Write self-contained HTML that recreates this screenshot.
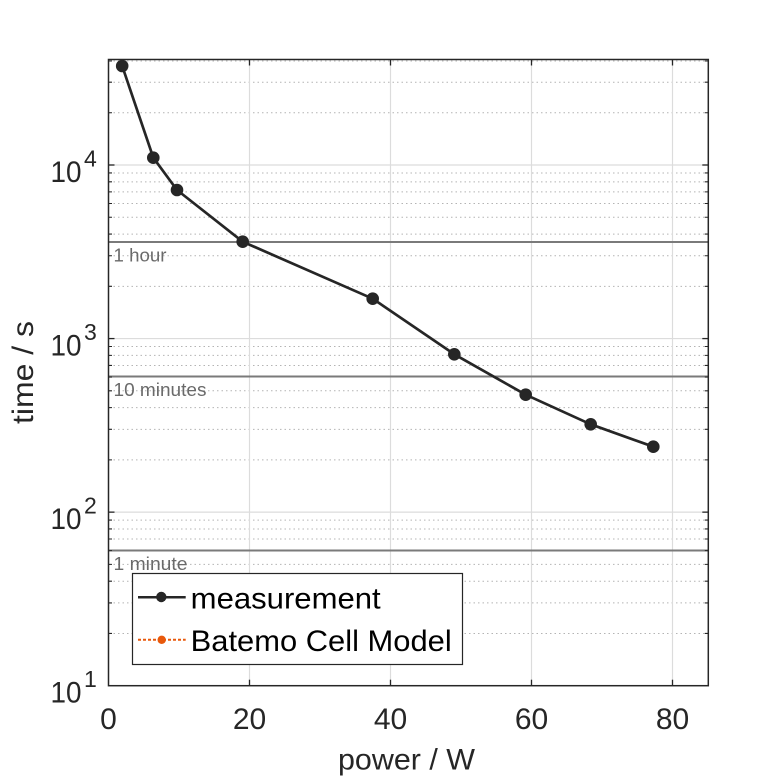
<!DOCTYPE html>
<html>
<head>
<meta charset="utf-8">
<style>
  html, body { margin: 0; padding: 0; background: #ffffff; }
  svg { display: block; }
  text { font-family: "Liberation Sans", "DejaVu Sans", sans-serif; }
</style>
</head>
<body>
<svg width="781" height="781" viewBox="0 0 781 781" xmlns="http://www.w3.org/2000/svg">
  <rect x="0" y="0" width="781" height="781" fill="#ffffff"/>

  <!-- minor dotted grid lines -->
  <g stroke="#b4b4b4" stroke-width="1" stroke-dasharray="1.5 3" fill="none">
    <line x1="109" x2="708" y1="633.45" y2="633.45"/>
    <line x1="109" x2="708" y1="602.89" y2="602.89"/>
    <line x1="109" x2="708" y1="581.2" y2="581.2"/>
    <line x1="109" x2="708" y1="564.38" y2="564.38"/>
    <line x1="109" x2="708" y1="550.63" y2="550.63"/>
    <line x1="109" x2="708" y1="539.01" y2="539.01"/>
    <line x1="109" x2="708" y1="528.95" y2="528.95"/>
    <line x1="109" x2="708" y1="520.07" y2="520.07"/>

    <line x1="109" x2="708" y1="459.88" y2="459.88"/>
    <line x1="109" x2="708" y1="429.32" y2="429.32"/>
    <line x1="109" x2="708" y1="407.63" y2="407.63"/>
    <line x1="109" x2="708" y1="390.81" y2="390.81"/>
    <line x1="109" x2="708" y1="377.06" y2="377.06"/>
    <line x1="109" x2="708" y1="365.44" y2="365.44"/>
    <line x1="109" x2="708" y1="355.38" y2="355.38"/>
    <line x1="109" x2="708" y1="346.5" y2="346.5"/>

    <line x1="109" x2="708" y1="286.32" y2="286.32"/>
    <line x1="109" x2="708" y1="255.76" y2="255.76"/>
    <line x1="109" x2="708" y1="234.07" y2="234.07"/>
    <line x1="109" x2="708" y1="217.25" y2="217.25"/>
    <line x1="109" x2="708" y1="203.5" y2="203.5"/>
    <line x1="109" x2="708" y1="191.88" y2="191.88"/>
    <line x1="109" x2="708" y1="181.82" y2="181.82"/>
    <line x1="109" x2="708" y1="172.94" y2="172.94"/>

    <line x1="109" x2="708" y1="112.75" y2="112.75"/>
    <line x1="109" x2="708" y1="82.19" y2="82.19"/>
    <line x1="109" x2="708" y1="61" y2="61"/>
  </g>

  <!-- major grid lines -->
  <g stroke="#dcdcdc" stroke-width="1.2" fill="none">
    <line x1="249.5" x2="249.5" y1="60" y2="685.5"/>
    <line x1="390.5" x2="390.5" y1="60" y2="685.5"/>
    <line x1="531.5" x2="531.5" y1="60" y2="685.5"/>
    <line x1="672.5" x2="672.5" y1="60" y2="685.5"/>
    <line x1="109" x2="708" y1="165" y2="165"/>
    <line x1="109" x2="708" y1="338.57" y2="338.57"/>
    <line x1="109" x2="708" y1="512.13" y2="512.13"/>
  </g>

  <!-- reference lines -->
  <g stroke="#7a7a7a" stroke-width="2" fill="none">
    <line x1="109" x2="708" y1="242" y2="242"/>
    <line x1="109" x2="708" y1="376.5" y2="376.5"/>
    <line x1="109" x2="708" y1="550.5" y2="550.5"/>
  </g>
  <g fill="#6a6a6a" font-size="18">
    <text x="113.5" y="261.5" textLength="53" lengthAdjust="spacingAndGlyphs">1 hour</text>
    <text x="113.5" y="396" textLength="93" lengthAdjust="spacingAndGlyphs">10 minutes</text>
    <text x="113.5" y="570" textLength="74" lengthAdjust="spacingAndGlyphs">1 minute</text>
  </g>

  <!-- axes box -->
  <rect x="108.5" y="59.5" width="599.8" height="626.2" fill="none" stroke="#262626" stroke-width="1.5"/>

  <!-- ticks: x axis (bottom and top) -->
  <g stroke="#262626" stroke-width="1.3">
    <line x1="249.5" x2="249.5" y1="685.7" y2="679.7"/>
    <line x1="390.5" x2="390.5" y1="685.7" y2="679.7"/>
    <line x1="531.5" x2="531.5" y1="685.7" y2="679.7"/>
    <line x1="672.5" x2="672.5" y1="685.7" y2="679.7"/>
    <line x1="249.5" x2="249.5" y1="59.5" y2="65.5"/>
    <line x1="390.5" x2="390.5" y1="59.5" y2="65.5"/>
    <line x1="531.5" x2="531.5" y1="59.5" y2="65.5"/>
    <line x1="672.5" x2="672.5" y1="59.5" y2="65.5"/>
    <!-- y major ticks left & right -->
    <line x1="108.5" x2="114.5" y1="165" y2="165"/>
    <line x1="108.5" x2="114.5" y1="338.57" y2="338.57"/>
    <line x1="108.5" x2="114.5" y1="512.13" y2="512.13"/>
    <line x1="708.3" x2="702.3" y1="165" y2="165"/>
    <line x1="708.3" x2="702.3" y1="338.57" y2="338.57"/>
    <line x1="708.3" x2="702.3" y1="512.13" y2="512.13"/>
  </g>
  <!-- y minor ticks -->
  <g stroke="#262626" stroke-width="1.1">
    <path d="M108.5 633.45h3.5M108.5 602.89h3.5M108.5 581.2h3.5M108.5 564.38h3.5M108.5 550.63h3.5M108.5 539.01h3.5M108.5 528.95h3.5M108.5 520.07h3.5
             M108.5 459.88h3.5M108.5 429.32h3.5M108.5 407.63h3.5M108.5 390.81h3.5M108.5 377.06h3.5M108.5 365.44h3.5M108.5 355.38h3.5M108.5 346.5h3.5
             M108.5 286.32h3.5M108.5 255.76h3.5M108.5 234.07h3.5M108.5 217.25h3.5M108.5 203.5h3.5M108.5 191.88h3.5M108.5 181.82h3.5M108.5 172.94h3.5
             M108.5 112.75h3.5M108.5 82.19h3.5M108.5 61h3.5
             M708.3 633.45h-3.5M708.3 602.89h-3.5M708.3 581.2h-3.5M708.3 564.38h-3.5M708.3 550.63h-3.5M708.3 539.01h-3.5M708.3 528.95h-3.5M708.3 520.07h-3.5
             M708.3 459.88h-3.5M708.3 429.32h-3.5M708.3 407.63h-3.5M708.3 390.81h-3.5M708.3 377.06h-3.5M708.3 365.44h-3.5M708.3 355.38h-3.5M708.3 346.5h-3.5
             M708.3 286.32h-3.5M708.3 255.76h-3.5M708.3 234.07h-3.5M708.3 217.25h-3.5M708.3 203.5h-3.5M708.3 191.88h-3.5M708.3 181.82h-3.5M708.3 172.94h-3.5
             M708.3 112.75h-3.5M708.3 82.19h-3.5M708.3 61h-3.5"/>
  </g>

  <!-- x tick labels -->
  <g fill="#262626" font-size="30" text-anchor="middle">
    <text x="108.5" y="729">0</text>
    <text x="249.5" y="729">20</text>
    <text x="390.5" y="729">40</text>
    <text x="531.5" y="729">60</text>
    <text x="672.5" y="729">80</text>
  </g>

  <!-- y tick labels -->
  <g fill="#262626">
    <text x="81.5" y="182" font-size="30" text-anchor="end" textLength="31" lengthAdjust="spacingAndGlyphs">10</text>
    <text x="84" y="166.5" font-size="23">4</text>
    <text x="81.5" y="355.5" font-size="30" text-anchor="end" textLength="31" lengthAdjust="spacingAndGlyphs">10</text>
    <text x="84" y="340" font-size="23">3</text>
    <text x="81.5" y="529" font-size="30" text-anchor="end" textLength="31" lengthAdjust="spacingAndGlyphs">10</text>
    <text x="84" y="513.5" font-size="23">2</text>
    <text x="81.5" y="702.7" font-size="30" text-anchor="end" textLength="31" lengthAdjust="spacingAndGlyphs">10</text>
    <text x="84" y="687" font-size="23">1</text>
  </g>

  <!-- axis labels -->
  <text x="406.5" y="769.5" font-size="30" fill="#262626" text-anchor="middle" textLength="137" lengthAdjust="spacingAndGlyphs">power / W</text>
  <text transform="translate(33,372.5) rotate(-90)" x="0" y="0" font-size="30" fill="#262626" text-anchor="middle" textLength="103" lengthAdjust="spacingAndGlyphs">time / s</text>

  <!-- data series -->
  <polyline fill="none" stroke="#262626" stroke-width="2.7" stroke-linejoin="round"
    points="122.2,66 153.3,157.7 177,190 242.7,241.7 372.7,298.7 454.3,354.3 525.7,394.7 590.7,424.3 653.3,446.7"/>
  <g fill="#262626">
    <circle cx="122.2" cy="66" r="6.3"/>
    <circle cx="153.3" cy="157.7" r="6.3"/>
    <circle cx="177" cy="190" r="6.3"/>
    <circle cx="242.7" cy="241.7" r="6.3"/>
    <circle cx="372.7" cy="298.7" r="6.3"/>
    <circle cx="454.3" cy="354.3" r="6.3"/>
    <circle cx="525.7" cy="394.7" r="6.3"/>
    <circle cx="590.7" cy="424.3" r="6.3"/>
    <circle cx="653.3" cy="446.7" r="6.3"/>
  </g>

  <!-- legend -->
  <rect x="132.5" y="573.5" width="330" height="91" fill="#ffffff" stroke="#262626" stroke-width="1.2"/>
  <line x1="138" x2="185.7" y1="597.3" y2="597.3" stroke="#262626" stroke-width="2.5"/>
  <circle cx="161.3" cy="597" r="5.2" fill="#262626"/>
  <line x1="138" x2="185.7" y1="639.8" y2="639.8" stroke="#e8590c" stroke-width="2" stroke-dasharray="3 2"/>
  <circle cx="161.7" cy="639.8" r="4.2" fill="#e8590c"/>
  <text x="190.7" y="608.3" font-size="30" fill="#000000" textLength="190" lengthAdjust="spacingAndGlyphs">measurement</text>
  <text x="190.7" y="651" font-size="30" fill="#000000" textLength="261" lengthAdjust="spacingAndGlyphs">Batemo Cell Model</text>
</svg>
</body>
</html>
